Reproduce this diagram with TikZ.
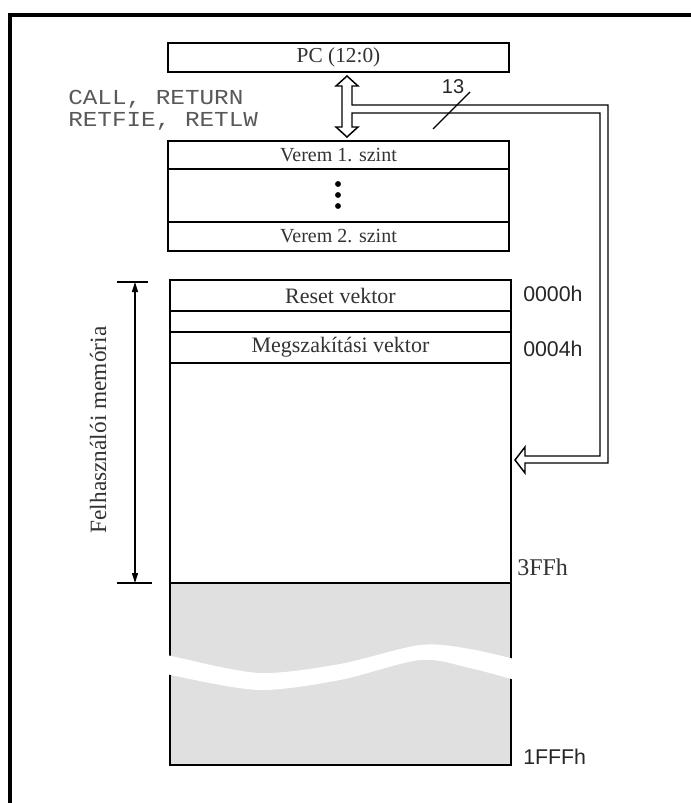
\documentclass[tikz,border=0pt]{standalone}
\usepackage{fontspec}
\setmainfont{Liberation Serif}
\setsansfont{Liberation Sans}
\setmonofont{Liberation Mono}
\usetikzlibrary{arrows.meta}
\begin{document}
\begin{tikzpicture}[x=0.75pt,y=-0.75pt,
  box/.style={draw=black, line width=1pt, inner sep=0pt, outer sep=0pt,
    minimum width=255.75pt, text=black!80},
  stacktxt/.style={font=\fontsize{15}{17}\selectfont},
  memtxt/.style={font=\fontsize{16.5}{19}\selectfont},
  addr/.style={anchor=west, inner sep=0pt, font=\sffamily\fontsize{16}{18}\selectfont, text=black!85},
  mono/.style={anchor=base west, inner sep=0pt, font=\ttfamily\fontsize{16}{18}\selectfont, text=black!65},
  hollow/.style={draw=black, line width=1.1pt, fill=white, line join=miter}
]
\useasboundingbox (0,0) rectangle (691,803);
\fill[white] (0,0) rectangle (691,803);

% outer frame (only top and left visible)
\draw[line width=3pt] (10,803) -- (10,15) -- (691,15);

% PC register
\node[box, minimum height=21.75pt, font=\fontsize{16}{18}\selectfont] (pc) at (338.5,57.5) {PC (12:0)};

% stack
\node[box, stacktxt, minimum height=21pt] (v1) at (338.5,155) {Verem 1. szint};
\node[box, minimum height=39.75pt] (vdots) at (338.5,195.5) {};
\node[box, stacktxt, minimum height=21.75pt] (v2) at (338.5,236.5) {Verem 2. szint};
\fill (338,184) circle (2.2pt);
\fill (338,195) circle (2.2pt);
\fill (338,206) circle (2.2pt);

% program memory
\node[box, memtxt, minimum height=23.25pt] (reset) at (340.5,295.5) {Reset vektor};
\node[box, minimum height=15.75pt] (gap) at (340.5,321.5) {};
\node[box, memtxt, minimum height=23.25pt] (megsz) at (340.5,347.5) {Megszakítási vektor};
\node[box, minimum height=165pt] (user) at (340.5,473) {};
\node[box, fill=black!12, minimum height=136.5pt] (rom) at (340.5,674) {};

% break in the memory (white wave)
\fill[white] plot[smooth] coordinates {(150,650) (180,658) (260,673) (340,664) (420,645) (470,649) (522,661)}
  -- plot[smooth] coordinates {(522,682) (470,668) (420,660) (340,680) (260,690) (180,677) (150,669)} -- cycle;

% address labels
\node[addr] (a0) at (523,294) {0000h};
\node[addr] (a4) at (523,349) {0004h};
\node[anchor=west, inner sep=0pt, font=\fontsize{18}{20}\selectfont, text=black!80] (a3ff) at (517,567) {3FFh};
\node[addr] (a1fff) at (523,757) {1FFFh};

% instructions
\node[mono] (call) at (68,104) {\scalebox{1.14}[1]{CALL, RETURN}};
\node[mono] (ret) at (68,126) {\scalebox{1.14}[1]{RETFIE, RETLW}};

% hollow double arrow / bus
\draw[hollow] (347,76) -- (358,86) -- (352,86) -- (352,105) -- (608,105) -- (608,463)
  -- (525,463) -- (525,473) -- (515,460) -- (525,447) -- (525,456) -- (600,456)
  -- (600,113) -- (352,113) -- (352,127) -- (358,127) -- (347,137) -- (336,127)
  -- (342,127) -- (342,86) -- (336,86) -- cycle;

% bus width mark
\coordinate (sl1) at (433,129);
\coordinate (sl2) at (470,92);
\draw[line width=0.9pt] (sl1) -- (sl2);
\node[inner sep=0pt, font=\sffamily\fontsize{15}{17}\selectfont, text=black!85] (w13) at (453,87) {13};

% dimension line for user memory
\coordinate (dt) at (135,282);
\coordinate (db) at (135,583);
\draw[line width=1pt] (117,282) -- (148,282);
\draw[line width=1pt] (117,583) -- (152,583);
\draw[line width=1pt, {Triangle[length=7.5pt,width=4.5pt]}-{Triangle[length=7.5pt,width=4.5pt]}] (dt) -- (db);
\node[rotate=90, inner sep=0pt, font=\fontsize{17.5}{20}\selectfont, text=black!80] (felh) at (98,430) {Felhasználói memória};
\end{tikzpicture}
\end{document}
